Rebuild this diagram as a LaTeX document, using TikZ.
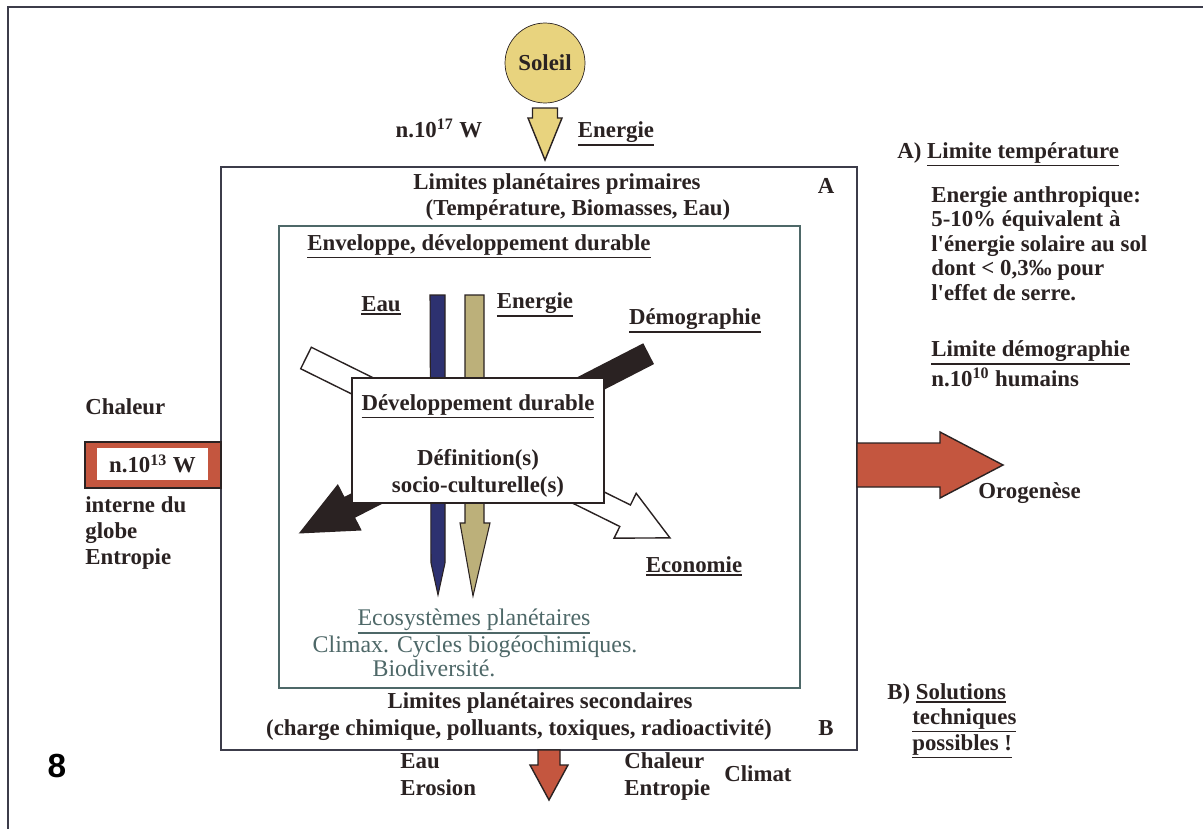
\documentclass[tikz,border=0pt]{standalone}
\usepackage{fontspec}
\setmainfont{Liberation Serif}
\newfontfamily\chiffre{Liberation Sans}
\usepackage{xcolor}

\definecolor{ink}{HTML}{2A2222}
\definecolor{cadre}{HTML}{3C3C4A}
\definecolor{soleil}{HTML}{E8D37E}
\definecolor{brique}{HTML}{C4563F}
\definecolor{marine}{HTML}{2D3170}
\definecolor{olive}{HTML}{BCB07A}
\definecolor{eco}{HTML}{4E6868}

\newcommand{\souligne}[1]{\vtop{\hbox{#1}\kern1.2pt\hrule height 0.8pt}}

\tikzset{
  txt/.style={inner sep=0pt, text=ink, font=\fontsize{13}{15}\selectfont\bfseries},
  ecotxt/.style={inner sep=0pt, text=eco, font=\fontsize{13.6}{15}\selectfont},
  pics/flecheplein/.style args={#1/#2/#3/#4}{code={
      \filldraw (0,-#2) -- (#1-#4,-#2) -- (#1-#4,-#3) -- (#1,0)
        -- (#1-#4,#3) -- (#1-#4,#2) -- (0,#2) -- cycle;}}
}

\begin{document}
\begin{tikzpicture}[x=0.02cm,y=-0.02cm]
  \useasboundingbox (0,0) rectangle (1203,829);
  \draw[cadre, line width=1.2pt] (1203,7) -- (8,7) -- (8,829);

  % cadres
  \node[draw=cadre, line width=1pt, minimum width=12.72cm, minimum height=11.66cm] (limA) at (539,458.5) {};
  \node[draw=eco, line width=0.8pt, minimum width=10.42cm, minimum height=9.24cm] (envbox) at (539.5,457) {};

  % soleil
  \node[txt, circle, draw=ink, fill=soleil, minimum size=1.6cm] (soleil) at (545,63) {Soleil};
  \pic[fill=soleil, draw=ink, line width=0.8pt, rotate=-90] at (545,108) {flecheplein=52/12.5/17/42};
  \node[txt, anchor=base] (p17) at (439,137) {n.10\textsuperscript{17} W};
  \node[txt, anchor=base] (enerA) at (616,137) {\souligne{Energie}};

  % barres et fleches centrales
  \filldraw[fill=marine, draw=ink, line width=0.6pt] (430,295) -- (445,295) -- (445,563) -- (438,595) -- (431,563) -- cycle;
  \filldraw[fill=olive, draw=ink, line width=0.6pt] (465,295) -- (484,295) -- (484,523) -- (490,523) -- (473,596) -- (460,523) -- (465,523) -- cycle;
  \pic[fill=ink, draw=ink, line width=0.8pt, rotate=207.2] at (648,354) {flecheplein=391/11/25/55};
  \pic[fill=white, draw=ink, line width=0.8pt, rotate=-26.3] at (306,358) {flecheplein=406/12/25/50};

  \node[draw=ink, fill=white, line width=0.9pt, minimum width=5.04cm, minimum height=2.5cm] (devbox) at (478,440.5) {};
  \node[txt, anchor=base] (devtitre) at (478,410) {\souligne{Développement durable}};
  \node[txt, anchor=base] (def1) at (478,465) {Définition(s)};
  \node[txt, anchor=base] (def2) at (478,492) {socio-culturelle(s)};

  % textes de la boite A
  \node[txt, anchor=base] (primA) at (557,189) {Limites planétaires primaires};
  \node[txt, anchor=base] (primB) at (578,215) {(Température, Biomasses, Eau)};
  \node[txt, anchor=base] (lettreA) at (826,193) {A};
  \node[txt, anchor=base west] (envel) at (307,250) {\souligne{Enveloppe, développement durable}};
  \node[txt, anchor=base] (eau) at (381,311) {\souligne{Eau}};
  \node[txt, anchor=base] (energ) at (535,308) {\souligne{Energie}};
  \node[txt, anchor=base] (demo) at (695,324) {\souligne{Démographie}};
  \node[txt, anchor=base] (econ) at (694,572) {\souligne{Economie}};
  \node[ecotxt, anchor=base] (eco1) at (474,625) {\souligne{Ecosystèmes planétaires}};
  \node[ecotxt, anchor=base] (eco2) at (475,652) {Climax. Cycles biogéochimiques.};
  \node[ecotxt, anchor=base] (eco3) at (434,676) {Biodiversité.};
  \node[txt, anchor=base] (secA) at (540,708) {Limites planétaires secondaires};
  \node[txt, anchor=base] (secB) at (519,735) {(charge chimique, polluants, toxiques, radioactivité)};
  \node[txt, anchor=base] (lettreB) at (826,735) {B};

  % sortie bas
  \pic[fill=brique, draw=ink, line width=0.8pt, rotate=-90] at (549,750) {flecheplein=50/11/19/35};
  \node[txt, anchor=base west] (bEau) at (400,768) {Eau};
  \node[txt, anchor=base west] (bEro) at (400,795) {Erosion};
  \node[txt, anchor=base west] (bCha) at (624,768) {Chaleur};
  \node[txt, anchor=base west] (bEnt) at (624,795) {Entropie};
  \node[txt, anchor=base west] (bCli) at (724,781) {Climat};

  % chaleur interne
  \node[txt, anchor=base west] (chal) at (85,414) {Chaleur};
  \node[draw=ink, fill=brique, line width=0.8pt, minimum width=2.72cm, minimum height=0.92cm] (rouge) at (153,465) {};
  \node[txt, fill=white, minimum width=2.22cm, minimum height=0.64cm] (p13) at (152.5,464) {n.10\textsuperscript{13} W};
  \node[txt, anchor=base west] (int1) at (85,512) {interne du};
  \node[txt, anchor=base west] (int2) at (85,538) {globe};
  \node[txt, anchor=base west] (int3) at (85,564) {Entropie};

  % orogenese
  \pic[fill=brique, draw=ink, line width=0.8pt] at (857,465) {flecheplein=146/22/33/63};
  \node[txt, anchor=base west] (oro) at (978,498) {Orogenèse};

  % colonne de droite
  \node[txt, anchor=base west] (limT) at (897,158) {A) \souligne{Limite température}};
  \foreach \ligne [count=\i] in {{Energie anthropique:}, {5-10\% équivalent à}, {l\textquotesingle énergie solaire au sol}, {dont < 0,3‰ pour}, {l\textquotesingle effet de serre.}}
    \node[txt, anchor=base west] (anth\i) at (931,177.5+24.5*\i) {\ligne};
  \node[txt, anchor=base west] (limD) at (931,356) {\souligne{Limite démographie}};
  \node[txt, anchor=base west] (p10) at (931,386) {n.10\textsuperscript{10} humains};
  \node[txt, anchor=base west] (sol1) at (887,699) {B) \souligne{Solutions}};
  \node[txt, anchor=base west] (sol2) at (912,724) {\souligne{techniques}};
  \node[txt, anchor=base west] (sol3) at (912,750) {\souligne{possibles !}};

  \node[anchor=base, inner sep=0pt, font=\chiffre\fontsize{19}{22}\selectfont\bfseries] (page) at (57,777) {8};
\end{tikzpicture}
\end{document}
